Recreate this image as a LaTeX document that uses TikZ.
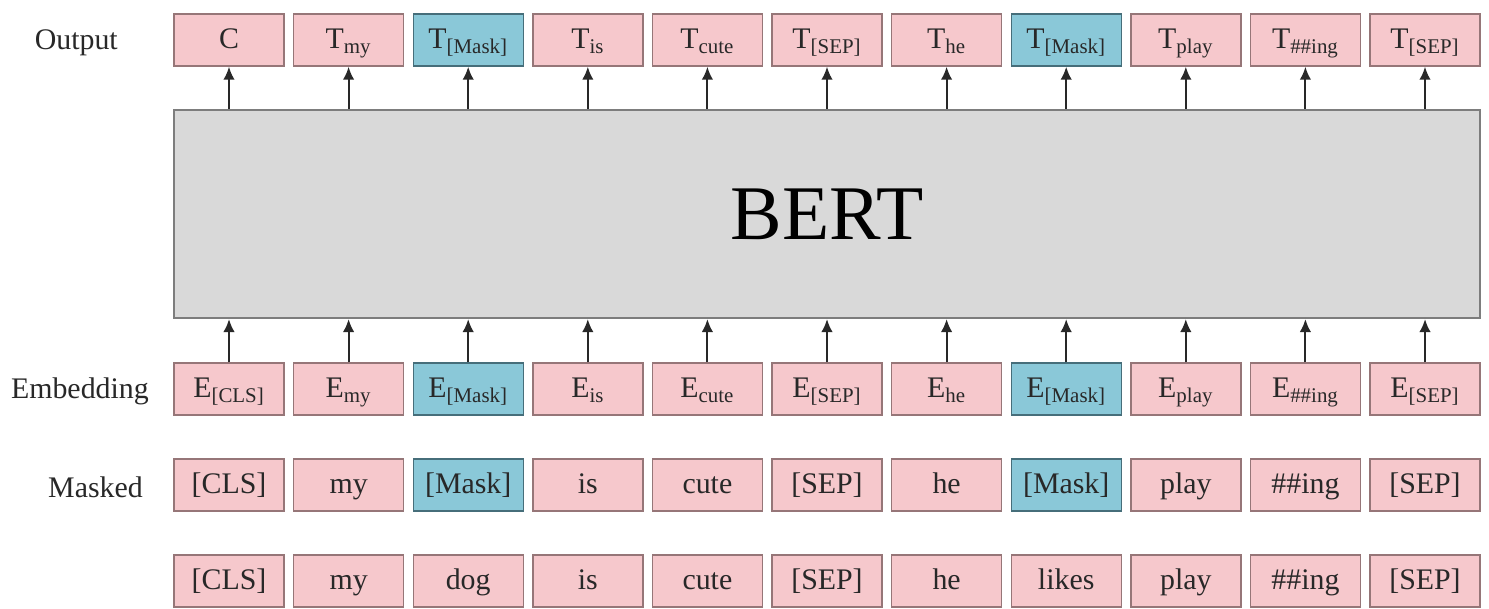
\documentclass[tikz,border=0pt]{standalone}
\usepackage{fontspec}
\setmainfont{Liberation Serif}
\usetikzlibrary{arrows.meta}
\definecolor{tokpink}{RGB}{246,200,204}
\definecolor{tokblue}{RGB}{138,200,216}
\definecolor{pinkline}{RGB}{150,118,120}
\definecolor{blueline}{RGB}{70,110,122}
\definecolor{bertgray}{RGB}{217,217,217}
\definecolor{bertline}{RGB}{125,125,125}
\definecolor{inkgray}{RGB}{40,40,40}
\tikzset{
  tok/.style={draw=pinkline, fill=tokpink, line width=0.8pt, text=inkgray,
    minimum width=2.2cm, minimum height=1.04cm, inner sep=0pt,
    text height=2.3ex, text depth=0.2ex,
    font=\fontsize{17}{20}\selectfont},
  masktok/.style={tok, draw=blueline, fill=tokblue},
  rowlabel/.style={anchor=east, text=inkgray, font=\fontsize{17}{20}\selectfont},
  up/.style={-{Latex[length=2.6mm,width=2.3mm]}, line width=1.2pt, draw=inkgray},
}
\begin{document}
\begin{tikzpicture}
  \useasboundingbox (0,0) rectangle (29.78,12.18);
  % row labels
  \node[rowlabel] (lout) at (2.48,11.32) {Output};
  \node[rowlabel] (lemb) at (3.1,4.36) {Embedding};
  \node[rowlabel] (lmask) at (2.98,2.44) {Masked};
  % the encoder
  \node[draw=bertline, fill=bertgray, line width=1.2pt, minimum width=26.12cm,
    minimum height=4.16cm, font=\fontsize{44}{50}\selectfont] (bert) at (16.54,7.9) {BERT};
  % output tokens
  \draw
    (4.58,11.38) node[tok] (o0){C}
    (6.972,11.38) node[tok] (o1){T\textsubscript{my}}
    (9.364,11.38) node[masktok] (o2){T\textsubscript{[Mask]}}
    (11.756,11.38) node[tok] (o3){T\textsubscript{is}}
    (14.148,11.38) node[tok] (o4){T\textsubscript{cute}}
    (16.54,11.38) node[tok] (o5){T\textsubscript{[SEP]}}
    (18.932,11.38) node[tok] (o6){T\textsubscript{he}}
    (21.324,11.38) node[masktok] (o7){T\textsubscript{[Mask]}}
    (23.716,11.38) node[tok] (o8){T\textsubscript{play}}
    (26.108,11.38) node[tok] (o9){T\textsubscript{\#\#ing}}
    (28.5,11.38) node[tok] (o10){T\textsubscript{[SEP]}};
  % embeddings
  \draw
    (4.58,4.4) node[tok] (e0){E\textsubscript{[CLS]}}
    (6.972,4.4) node[tok] (e1){E\textsubscript{my}}
    (9.364,4.4) node[masktok] (e2){E\textsubscript{[Mask]}}
    (11.756,4.4) node[tok] (e3){E\textsubscript{is}}
    (14.148,4.4) node[tok] (e4){E\textsubscript{cute}}
    (16.54,4.4) node[tok] (e5){E\textsubscript{[SEP]}}
    (18.932,4.4) node[tok] (e6){E\textsubscript{he}}
    (21.324,4.4) node[masktok] (e7){E\textsubscript{[Mask]}}
    (23.716,4.4) node[tok] (e8){E\textsubscript{play}}
    (26.108,4.4) node[tok] (e9){E\textsubscript{\#\#ing}}
    (28.5,4.4) node[tok] (e10){E\textsubscript{[SEP]}};
  % masked input
  \draw
    (4.58,2.48) node[tok] (m0){[CLS]}
    (6.972,2.48) node[tok] (m1){my}
    (9.364,2.48) node[masktok] (m2){[Mask]}
    (11.756,2.48) node[tok] (m3){is}
    (14.148,2.48) node[tok] (m4){cute}
    (16.54,2.48) node[tok] (m5){[SEP]}
    (18.932,2.48) node[tok] (m6){he}
    (21.324,2.48) node[masktok] (m7){[Mask]}
    (23.716,2.48) node[tok] (m8){play}
    (26.108,2.48) node[tok] (m9){\#\#ing}
    (28.5,2.48) node[tok] (m10){[SEP]};
  % original sentence
  \draw
    (4.58,0.56) node[tok] (s0){[CLS]}
    (6.972,0.56) node[tok] (s1){my}
    (9.364,0.56) node[tok] (s2){dog}
    (11.756,0.56) node[tok] (s3){is}
    (14.148,0.56) node[tok] (s4){cute}
    (16.54,0.56) node[tok] (s5){[SEP]}
    (18.932,0.56) node[tok] (s6){he}
    (21.324,0.56) node[tok] (s7){likes}
    (23.716,0.56) node[tok] (s8){play}
    (26.108,0.56) node[tok] (s9){\#\#ing}
    (28.5,0.56) node[tok] (s10){[SEP]};
  \begin{scope}[up]
    \draw (e0) to (e0 |- bert.south);
    \draw (e1) to (e1 |- bert.south);
    \draw (e2) to (e2 |- bert.south);
    \draw (e3) to (e3 |- bert.south);
    \draw (e4) to (e4 |- bert.south);
    \draw (e5) to (e5 |- bert.south);
    \draw (e6) to (e6 |- bert.south);
    \draw (e7) to (e7 |- bert.south);
    \draw (e8) to (e8 |- bert.south);
    \draw (e9) to (e9 |- bert.south);
    \draw (e10) to (e10 |- bert.south);
    \draw (o0 |- bert.north) to (o0);
    \draw (o1 |- bert.north) to (o1);
    \draw (o2 |- bert.north) to (o2);
    \draw (o3 |- bert.north) to (o3);
    \draw (o4 |- bert.north) to (o4);
    \draw (o5 |- bert.north) to (o5);
    \draw (o6 |- bert.north) to (o6);
    \draw (o7 |- bert.north) to (o7);
    \draw (o8 |- bert.north) to (o8);
    \draw (o9 |- bert.north) to (o9);
    \draw (o10 |- bert.north) to (o10);
  \end{scope}
\end{tikzpicture}
\end{document}
